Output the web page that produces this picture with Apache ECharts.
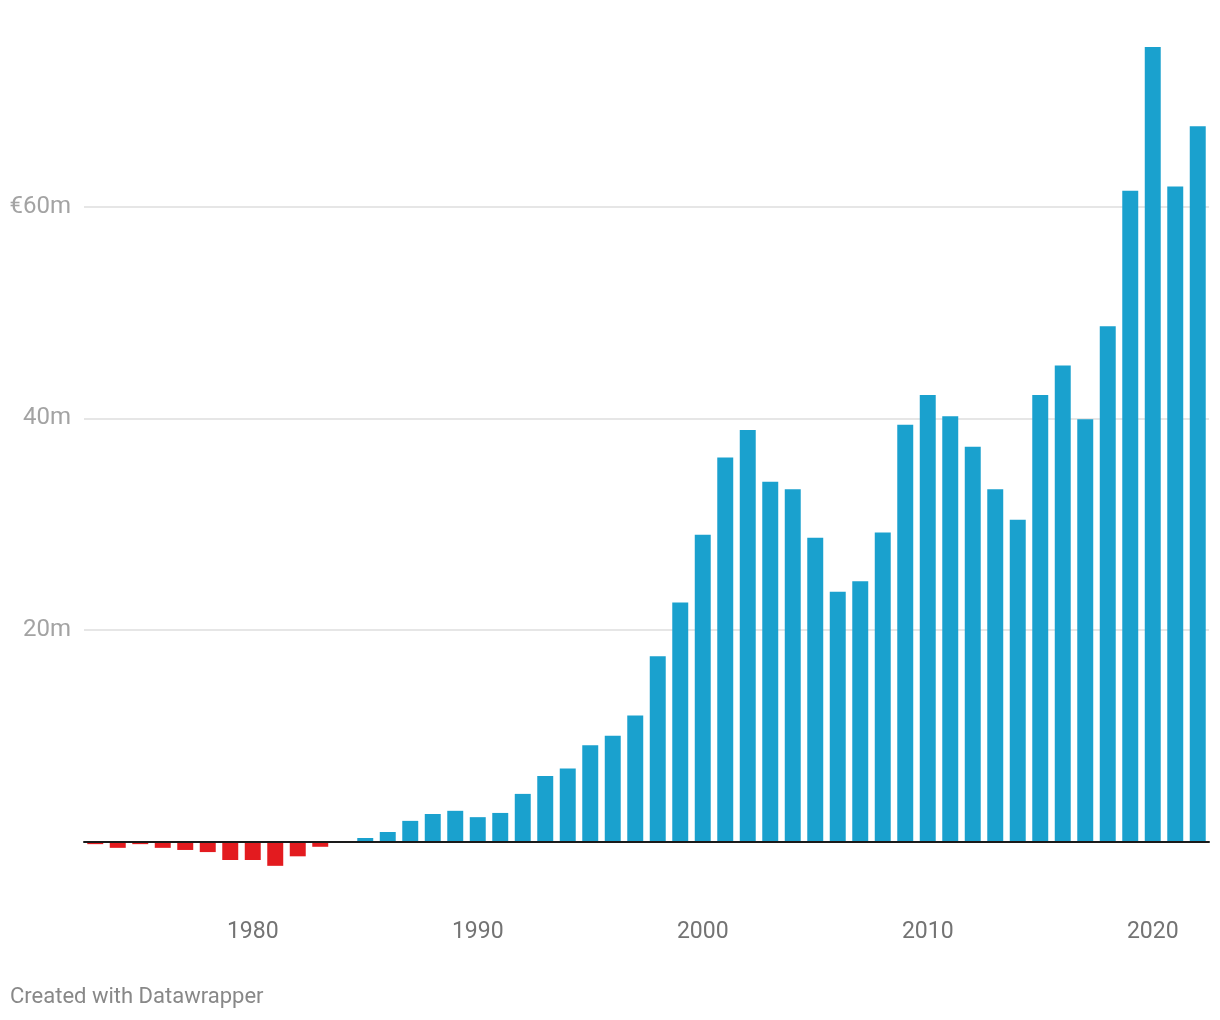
<!DOCTYPE html>
<html>
<head>
<meta charset="utf-8">
<script src="https://cdn.jsdelivr.net/npm/echarts@6/dist/echarts.min.js"></script>
<style>
html,body{margin:0;padding:0;background:#fff;}
#chart{width:1220px;height:1020px;}
</style>
</head>
<body>
<div id="chart"></div>
<script>
var years = [];
for (var y = 1973; y <= 2022; y++) years.push(String(y));

var values = [
  -0.25, -0.6, -0.25, -0.6, -0.8, -1.0, -1.75, -1.75, -2.3, -1.4,
  -0.5, 0, 0.33, 0.9, 1.95, 2.6, 2.9, 2.3, 2.7, 4.5,
  6.2, 6.9, 9.1, 10.0, 11.9, 17.5, 22.6, 29.0, 36.3, 38.9,
  34.0, 33.3, 28.7, 23.6, 24.6, 29.2, 39.4, 42.2, 40.2, 37.3,
  33.3, 30.4, 42.2, 45.0, 39.9, 48.7, 61.5, 75.1, 61.9, 67.6
];

var yTicks = [20, 40, 60];
var yTickLabels = ['20m', '40m', '€60m'];
var xTickYears = ['1980', '1990', '2000', '2010', '2020'];

var k = 10.58; // px per unit
var zeroY = 841.5;
var yMin = -4, yMax = 76;

var chart = echarts.init(document.getElementById('chart'), null, {renderer: 'canvas'});
chart.setOption({
  animation: false,
  backgroundColor: '#ffffff',
  title: {
    text: 'Created with Datawrapper',
    left: 10,
    top: 986,
    padding: 0,
    textStyle: {fontFamily: 'Roboto', fontSize: 22, fontWeight: 'normal', color: '#888888'}
  },
  grid: {
    left: 84,
    right: 11,
    top: zeroY - yMax * k,
    bottom: 1020 - (zeroY - yMin * k)
  },
  xAxis: {
    type: 'category',
    data: years,
    z: 5,
    axisLine: {onZero: true, lineStyle: {color: '#1a1a1a', width: 2}},
    axisTick: {show: false},
    axisLabel: {
      interval: 0,
      margin: 37,
      fontFamily: 'Roboto',
      fontSize: 23,
      color: '#737373',
      formatter: function (v) { return xTickYears.indexOf(v) >= 0 ? v : ''; }
    },
    splitLine: {show: false}
  },
  yAxis: {
    type: 'value',
    min: yMin,
    max: yMax,
    splitNumber: 4,
    axisLine: {show: false},
    axisTick: {show: false},
    axisLabel: {
      margin: 13,
      showMinLabel: false,
      showMaxLabel: false,
      fontFamily: 'Roboto',
      fontSize: 24,
      color: '#a3a3a3',
      formatter: function (v) {
        var i = yTicks.indexOf(v);
        return i >= 0 ? yTickLabels[i] : '';
      }
    },
    splitLine: {showMinLine: false, showMaxLine: false, lineStyle: {color: '#e6e6e6', width: 2}}
  },
  series: [{
    type: 'bar',
    data: values,
    barCategoryGap: '29%',
    itemStyle: {
      color: function (p) { return p.value < 0 ? '#e31b1f' : '#1aa1ce'; }
    }
  }]
});
</script>
</body>
</html>
